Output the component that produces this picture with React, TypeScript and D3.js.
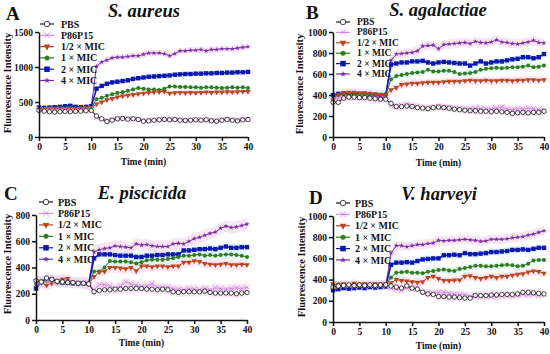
import React, { useEffect, useRef } from 'react';
import * as d3 from 'd3';

// ---------- categories / tick labels ----------
const TIME: number[] = d3.range(0, 41);
const X_TICKS = [0, 5, 10, 15, 20, 25, 30, 35, 40];
const SERIES_NAMES = ['PBS', 'P86P15', '1/2 × MIC', '1 × MIC', '2 × MIC', '4 × MIC'];
const PANEL_TITLES = ['S. aureus', 'S. agalactiae', 'E. piscicida', 'V. harveyi'];
const PANEL_LETTERS = ['A', 'B', 'C', 'D'];
const Y_TICKS_A = [0, 500, 1000, 1500];
const Y_TICKS_B = [0, 200, 400, 600, 800, 1000];
const Y_TICKS_C = [0, 200, 400, 600, 800];
const Y_TICKS_D = [0, 200, 400, 600, 800, 1000];

// ---------- Panel A: S. aureus ----------
const A_PBS = [380,370,360,355,360,365,360,365,370,375,380, 300,260,220,240,260,265,255,260,250,225, 230,240,245,250,245,250,240,235,240,245, 240,245,230,225,240,250,240,230,245,250];
const A_P86 = [400,395,390,385,390,395,390,385,390,395,400, 280,255,235,250,265,270,260,265,255,235, 240,245,250,255,250,255,245,240,245,250, 245,250,240,235,245,255,245,240,250,255];
const A_HALF = [390,400,405,410,400,405,410,405,410,415,420, 470,500,530,550,570,585,595,605,615,625, 635,640,645,650,625,630,635,630,635,630, 635,640,635,640,640,645,640,645,650,650];
const A_ONE = [400,405,410,405,410,410,415,410,415,410,420, 540,560,590,610,630,640,660,680,700,690, 680,680,670,690,720,720,715,715,710,710, 705,710,710,705,700,705,710,705,710,700];
const A_TWO = [420,415,420,425,430,440,445,430,425,430,440, 690,730,760,780,790,800,810,830,840,850, 860,865,870,875,880,890,895,900,900,905, 905,910,910,915,915,920,920,925,925,930];
const A_FOUR = [410,410,415,410,420,415,420,425,420,425,430, 1010,1070,1100,1130,1140,1140,1150,1160,1160,1180, 1200,1200,1200,1190,1160,1190,1230,1230,1240,1240, 1250,1230,1250,1250,1260,1260,1260,1270,1280,1290];

// ---------- Panel B: S. agalactiae ----------
const B_PBS = [330,330,370,380,380,375,375,370,365,360,360, 320,290,290,295,290,280,275,270,280,285, 280,275,265,260,255,250,250,245,245,240, 245,240,235,225,230,235,230,235,235,245];
const B_P86 = [360,370,375,380,375,378,380,375,370,365,370, 300,290,300,310,300,290,280,270,280,290, 285,280,275,270,265,270,275,270,265,270, 275,285,265,260,270,265,275,270,260,255];
const B_HALF = [350,400,420,425,425,420,420,415,410,405,400, 450,470,500,505,510,510,515,520,520,520, 525,530,530,530,535,540,535,535,540,535, 535,540,540,535,540,540,545,545,540,545];
const B_ONE = [370,400,410,410,410,405,405,400,400,400,395, 550,580,590,600,610,615,620,640,625,625, 630,630,620,600,605,610,620,640,650,655, 660,655,660,665,665,670,680,665,670,680];
const B_TWO = [400,410,415,410,410,405,405,400,400,400,400, 690,700,710,710,720,720,725,710,700,710, 715,710,705,700,700,680,700,720,700,710, 720,720,730,740,745,760,760,750,760,790];
const B_FOUR = [380,400,405,400,395,390,385,385,380,375,380, 730,790,795,800,805,820,865,870,875,840, 880,885,890,895,900,890,910,900,895,905, 925,905,900,890,885,895,905,920,900,895];

// ---------- Panel C: E. piscicida ----------
const C_PBS = [300,290,320,310,295,290,285,285,280,280,275, 215,225,230,230,235,235,240,240,240,240, 235,235,230,235,230,215,210,215,215,215, 215,220,210,205,205,205,205,200,205,210];
const C_P86 = [280,285,295,300,290,290,290,285,285,280,280, 230,270,270,260,240,260,290,275,265,255, 260,275,250,245,250,240,235,230,240,235, 230,240,230,245,240,235,240,245,240,250];
const C_HALF = [300,285,265,280,300,310,315,285,280,285,275, 330,365,370,400,400,395,390,400,375,410, 410,405,410,410,405,410,410,440,440,450, 445,430,425,420,425,430,420,420,425,420];
const C_ONE = [270,290,300,305,285,280,280,285,280,280,275, 370,370,400,450,445,445,445,440,430,440, 455,460,460,460,465,470,480,490,490,495, 500,490,495,490,495,500,500,495,490,480];
const C_TWO = [240,290,305,310,290,285,285,280,280,280,275, 470,500,500,500,495,490,490,490,480,480, 490,490,495,495,500,500,500,530,530,535, 540,540,545,540,550,560,550,550,555,555];
const C_FOUR = [290,295,300,305,295,290,290,285,285,280,280, 520,535,545,550,565,560,555,550,580,570, 575,565,560,560,560,580,585,580,600,620, 630,645,660,670,700,715,705,710,720,730];

// ---------- Panel D: V. harveyi ----------
const D_PBS = [330,340,345,350,345,350,345,350,345,350,350, 340,330,320,340,320,310,280,265,260,240, 240,235,235,230,225,225,250,250,250,255, 255,260,260,260,265,280,280,275,270,265];
const D_P86 = [330,335,340,340,335,340,335,340,335,340,340, 320,310,300,330,310,330,280,270,270,280, 280,270,265,260,260,240,245,240,245,240, 240,245,250,245,250,260,255,265,250,260];
const D_HALF = [360,350,360,350,365,355,360,355,360,355,360, 370,400,390,385,380,375,380,420,430,410, 390,390,395,395,430,435,420,410,420,430, 420,430,430,440,450,455,470,480,475,460];
const D_ONE = [350,355,350,345,350,355,350,345,350,355,350, 420,465,470,475,465,465,460,475,480,490, 495,485,480,500,510,520,530,530,525,525, 530,535,540,535,525,530,550,580,585,585];
const D_TWO = [300,310,320,315,320,325,320,330,325,330,335, 540,560,560,565,560,575,590,595,600,600, 630,630,635,630,650,640,640,645,650,660, 660,665,670,680,680,685,680,690,700,700];
const D_FOUR = [340,340,345,340,345,345,340,345,340,345,345, 650,720,720,710,720,730,730,740,745,770, 765,770,770,775,780,775,770,760,765,780, 780,780,785,795,800,805,820,830,845,860];

// approximate error band half-widths per series (PBS..4x)
const BAND = [35, 35, 40, 35, 35, 45];

// ---------- styles ----------
const COLORS = ['#1c1c1c', '#d68ae8', '#b8461e', '#2f7d1f', '#0c18b0', '#7a2f9f'];
const BAND_COLORS = ['#f7d6ee', '#f7d6ee', '#f9d6ea', '#d6f3ee', '#d4f1f7', '#f6d0ee'];
const FONT = "'Liberation Serif', 'Times New Roman', serif";

interface Layout {
  left: number; right: number; top: number; bottom: number;
  yMax: number; yTicks: number[];
  titleX: number; titleY: number;
  letterX: number; letterY: number;
  legX: number; legTextX: number; legY: number; legDy: number; legFont: number;
  yLabX: number; yLabY: number; xLabY: number;
}

const LAYOUTS: Layout[] = [
  { left: 39, right: 248, top: 32, bottom: 137, yMax: 1500, yTicks: Y_TICKS_A,
    titleX: 144, titleY: 17, letterX: 6, letterY: 20,
    legX: 47, legTextX: 61, legY: 24, legDy: 11.3, legFont: 10,
    yLabX: 7, yLabY: 83, xLabY: 162 },
  { left: 333, right: 544, top: 32, bottom: 137, yMax: 1000, yTicks: Y_TICKS_B,
    titleX: 438, titleY: 16, letterX: 306, letterY: 19,
    legX: 343, legTextX: 357, legY: 22, legDy: 10.4, legFont: 9.5,
    yLabX: 299, yLabY: 84, xLabY: 163 },
  { left: 36, right: 247, top: 215, bottom: 320, yMax: 800, yTicks: Y_TICKS_C,
    titleX: 142, titleY: 199, letterX: 4, letterY: 200,
    legX: 46, legTextX: 58, legY: 202, legDy: 11.45, legFont: 10,
    yLabX: 7, yLabY: 264, xLabY: 343 },
  { left: 333, right: 544, top: 216, bottom: 322, yMax: 1000, yTicks: Y_TICKS_D,
    titleX: 439, titleY: 200, letterX: 309, letterY: 204,
    legX: 343, legTextX: 355, legY: 203, legDy: 11.4, legFont: 10,
    yLabX: 301, yLabY: 267, xLabY: 346 },
];

const PANEL_DATA: number[][][] = [
  [A_PBS, A_P86, A_HALF, A_ONE, A_TWO, A_FOUR],
  [B_PBS, B_P86, B_HALF, B_ONE, B_TWO, B_FOUR],
  [C_PBS, C_P86, C_HALF, C_ONE, C_TWO, C_FOUR],
  [D_PBS, D_P86, D_HALF, D_ONE, D_TWO, D_FOUR],
];

type Sel = d3.Selection<SVGGElement, unknown, null, undefined>;

function drawMarker(g: Sel, i: number, cx: number, cy: number, scale = 1) {
  const c = COLORS[i];
  if (i === 0) {
    g.append('circle').attr('cx', cx).attr('cy', cy).attr('r', 2.2 * scale)
      .attr('fill', '#fff').attr('stroke', c).attr('stroke-width', 0.8);
  } else if (i === 1) {
    const r = 2.4 * scale;
    g.append('path')
      .attr('d', `M${cx - r},${cy - r}L${cx + r},${cy + r}M${cx - r},${cy + r}L${cx + r},${cy - r}`)
      .attr('stroke', c).attr('stroke-width', 0.9).attr('fill', 'none');
  } else if (i === 2) {
    g.append('path').attr('d', d3.symbol(d3.symbolTriangle, 13 * scale * scale)()!)
      .attr('transform', `translate(${cx},${cy}) rotate(180)`).attr('fill', c);
  } else if (i === 3) {
    g.append('circle').attr('cx', cx).attr('cy', cy).attr('r', 2.0 * scale).attr('fill', c);
  } else if (i === 4) {
    const s = 4.4 * scale;
    g.append('rect').attr('x', cx - s / 2).attr('y', cy - s / 2).attr('width', s).attr('height', s).attr('fill', c);
  } else {
    g.append('path').attr('d', d3.symbol(d3.symbolStar, 8 * scale * scale)()!)
      .attr('transform', `translate(${cx},${cy})`).attr('fill', c);
  }
}

function drawPanel(svg: d3.Selection<SVGSVGElement, unknown, null, undefined>, p: number) {
  const L = LAYOUTS[p];
  const series = PANEL_DATA[p];
  const g = svg.append('g');
  const x = d3.scaleLinear().domain([0, 40]).range([L.left, L.right]);
  const y = d3.scaleLinear().domain([0, L.yMax]).range([L.bottom, L.top]);

  // error bands
  series.forEach((vals, i) => {
    const area = d3.area<number>()
      .x((_, j) => x(TIME[j]))
      .y0((d) => y(Math.max(0, d - BAND[i])))
      .y1((d) => y(d + BAND[i]));
    g.append('path').attr('d', area(vals)!).attr('fill', BAND_COLORS[i]).attr('opacity', 0.55);
  });

  const order = [5, 4, 3, 2, 1, 0];
  order.forEach((i) => {
    const vals = series[i];
    const line = d3.line<number>().x((_, j) => x(TIME[j])).y((d) => y(d));
    g.append('path').attr('d', line(vals)!).attr('fill', 'none')
      .attr('stroke', COLORS[i]).attr('stroke-width', i === 4 ? 1.6 : 1);
    const mg = g.append('g');
    vals.forEach((v, j) => drawMarker(mg, i, x(TIME[j]), y(v)));
  });

  // axes
  const xAxis = d3.axisBottom(x).tickValues(X_TICKS).tickSize(4).tickSizeOuter(0).tickPadding(2)
    .tickFormat(d3.format('d') as any);
  const yAxis = d3.axisLeft(y).tickValues(L.yTicks).tickSize(4).tickSizeOuter(0).tickPadding(2)
    .tickFormat(d3.format('d') as any);
  const gx = g.append('g').attr('transform', `translate(0,${L.bottom})`).call(xAxis);
  const gy = g.append('g').attr('transform', `translate(${L.left},0)`).call(yAxis);
  [gx, gy].forEach((ax) => {
    ax.select('.domain').attr('stroke', '#111').attr('stroke-width', 1.5);
    ax.selectAll('.tick line').attr('stroke', '#111').attr('stroke-width', 1.5);
    ax.selectAll('.tick text').attr('font-family', FONT).attr('font-weight', 'bold')
      .attr('font-size', 9.5).attr('fill', '#111');
  });

  // title and panel letter
  g.append('text').attr('x', L.titleX).attr('y', L.titleY).attr('text-anchor', 'middle')
    .attr('font-family', FONT).attr('font-weight', 'bold').attr('font-style', 'italic')
    .attr('font-size', 18.5).attr('fill', '#111').text(PANEL_TITLES[p]);
  g.append('text').attr('x', L.letterX).attr('y', L.letterY)
    .attr('font-family', FONT).attr('font-weight', 'bold')
    .attr('font-size', 19).attr('fill', '#111').text(PANEL_LETTERS[p]);

  // axis labels
  g.append('text').attr('transform', `translate(${L.yLabX},${L.yLabY}) rotate(-90)`)
    .attr('text-anchor', 'middle').attr('dominant-baseline', 'central')
    .attr('font-family', FONT).attr('font-weight', 'bold').attr('font-size', 10.5)
    .attr('fill', '#111').text('Fluorescence Intensity');
  g.append('text').attr('x', (L.left + L.right) / 2).attr('y', L.xLabY)
    .attr('text-anchor', 'middle').attr('dominant-baseline', 'central')
    .attr('font-family', FONT).attr('font-weight', 'bold').attr('font-size', 9.5)
    .attr('fill', '#111').text('Time (min)');

  // legend
  const lg = g.append('g');
  SERIES_NAMES.forEach((name, i) => {
    const cy = L.legY + i * L.legDy;
    lg.append('line').attr('x1', L.legX - 7).attr('x2', L.legX + 7).attr('y1', cy).attr('y2', cy)
      .attr('stroke', COLORS[i]).attr('stroke-width', 1.2);
    drawMarker(lg, i, L.legX, cy, 1.25);
    lg.append('text').attr('x', L.legTextX).attr('y', cy).attr('dominant-baseline', 'central')
      .attr('font-family', FONT).attr('font-weight', 'bold').attr('font-size', L.legFont)
      .attr('fill', '#111').text(name);
  });
}

export default function App() {
  const ref = useRef<SVGSVGElement>(null);
  useEffect(() => {
    if (!ref.current) return;
    const svg = d3.select(ref.current);
    svg.selectAll('*').remove();
    for (let p = 0; p < 4; p++) drawPanel(svg, p);
  }, []);
  return (
    <svg ref={ref} width={550} height={354}
      style={{ position: 'absolute', left: 0, top: 0, background: '#fff' }} />
  );
}
